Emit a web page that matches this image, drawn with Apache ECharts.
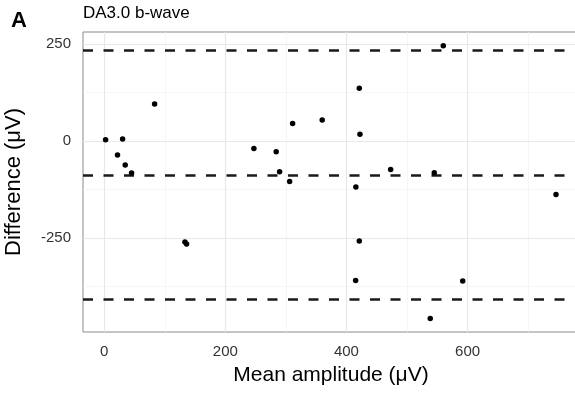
<!DOCTYPE html>
<html>
<head>
<meta charset="utf-8">
<script src="https://cdn.jsdelivr.net/npm/echarts@6/dist/echarts.min.js"></script>
<style>html,body{margin:0;padding:0;background:#fff;}#c{width:575px;height:396px;}</style>
</head>
<body>
<div id="c"></div>
<script>
// Data
var meanAmplitude = [2.3, 30.4, 22, 34.7, 45.2, 83.2, 133.3, 136, 247.2, 284, 289.6, 306.2, 311.1, 360, 421.2, 422.3, 415.6, 421.2, 415.2, 473, 545, 559.9, 592, 538.4, 746];
var difference   = [3.4, 5, -36, -62, -82.5, 95.4, -260, -265, -19, -27.5, -79, -104, 45.5, 54, 135.8, 17.3, -118.6, -257.7, -359, -73, -81.7, 245.6, -360.8, -457, -138];
var limitLines = [234.5, -87.6, -408];       // upper LoA, mean difference, lower LoA
var xTicks = [0, 200, 400, 600];
var xMinor = [100, 300, 500, 700];
var yTicks = [-250, 0, 250];
var yMinor = [-375, -125, 125];

var points = meanAmplitude.map(function (x, i) { return [x, difference[i]]; });

var chart = echarts.init(document.getElementById('c'), null, {renderer: 'canvas'});
var font = 'Liberation Sans, Arial, Helvetica, sans-serif';

chart.setOption({
  animation: false,
  backgroundColor: '#ffffff',
  grid: {left: 83, top: 32, right: -4, bottom: 64, containLabel: false, outerBoundsMode: 'none',
         show: true, borderColor: '#8a8a8a', borderWidth: 1, backgroundColor: 'transparent'},
  graphic: [
    {type: 'text', left: 11, top: 10, style: {text: 'A', font: 'bold 22px ' + font, fill: '#000'}},
    {type: 'text', left: 83, top: 5, style: {text: 'DA3.0 b-wave', font: '17px ' + font, fill: '#000'}}
  ],
  xAxis: {
    type: 'value', min: -35, max: 784,
    name: 'Mean amplitude (\u03bcV)', nameLocation: 'middle', nameGap: 33,
    nameTextStyle: {fontFamily: font, fontSize: 21, color: '#000'},
    axisLine: {show: false},
    axisTick: {show: true, customValues: xTicks, length: 4, lineStyle: {color: '#555'}},
    axisLabel: {customValues: xTicks, margin: 12, fontFamily: font, fontSize: 15, color: '#333'},
    splitLine: {show: false}
  },
  yAxis: {
    type: 'value', min: -492, max: 281,
    name: 'Difference (\u03bcV)', nameLocation: 'middle', nameGap: 58,
    nameTextStyle: {fontFamily: font, fontSize: 22, color: '#000'},
    axisLine: {show: false},
    axisTick: {show: true, customValues: yTicks, length: 4, lineStyle: {color: '#555'}},
    axisLabel: {customValues: yTicks, margin: 12, fontFamily: font, fontSize: 15, color: '#333'},
    splitLine: {show: false}
  },
  series: [
    {
      type: 'scatter', data: [], silent: true, z: 1,
      markLine: {
        silent: true, symbol: 'none', label: {show: false}, animation: false, z: 1,
        data: xMinor.map(function (v) { return {xAxis: v, lineStyle: {color: '#f2f2f2', width: 0.7, type: 'solid'}}; })
          .concat(yMinor.map(function (v) { return {yAxis: v, lineStyle: {color: '#f2f2f2', width: 0.7, type: 'solid'}}; }))
          .concat(xTicks.map(function (v) { return {xAxis: v, lineStyle: {color: '#e8e8e8', width: 1.2, type: 'solid'}}; }))
          .concat(yTicks.map(function (v) { return {yAxis: v, lineStyle: {color: '#e8e8e8', width: 1.2, type: 'solid'}}; }))
      }
    },
    {
      type: 'scatter', data: [], silent: true, z: 2,
      markLine: {
        silent: true, symbol: 'none', label: {show: false}, animation: false, z: 2,
        lineStyle: {color: '#1a1a1a', width: 2.6, type: [10, 10.5]},
        data: limitLines.map(function (v) { return {yAxis: v}; })
      }
    },
    {
      type: 'scatter', data: points, symbol: 'circle', symbolSize: 5.5, z: 10,
      itemStyle: {color: '#000', opacity: 1}
    }
  ]
});
</script>
</body>
</html>
